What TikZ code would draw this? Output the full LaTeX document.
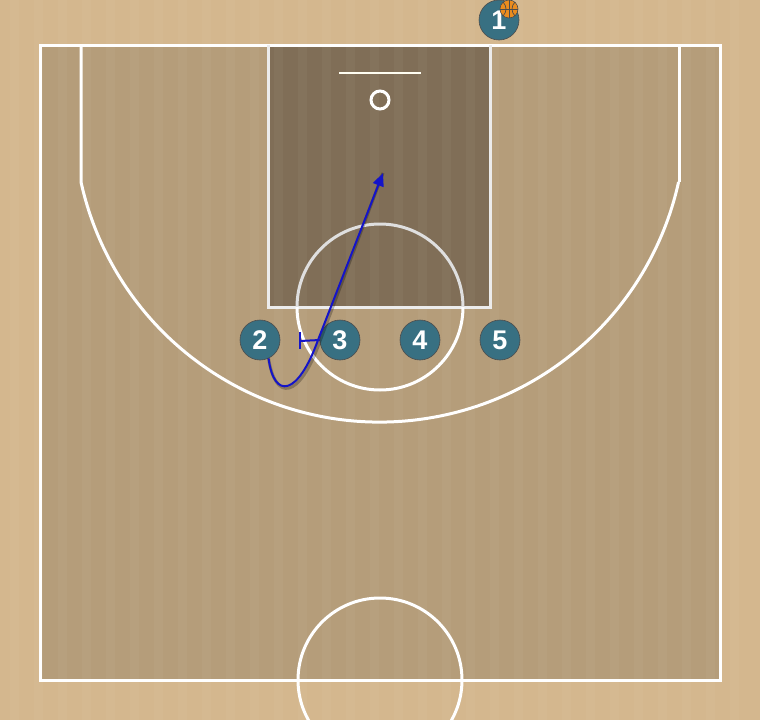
\documentclass[tikz,border=0pt]{standalone}
\usepackage{fontspec}
\setmainfont{Liberation Sans}
\usetikzlibrary{arrows.meta}
\definecolor{outside}{RGB}{212,183,142}
\definecolor{court}{RGB}{181,157,122}
\definecolor{paint}{RGB}{128,110,87}
\definecolor{playerfill}{RGB}{56,112,130}
\definecolor{cutblue}{RGB}{20,20,200}
\definecolor{ballorange}{RGB}{235,140,30}
\tikzset{
  courtline/.style={draw=white, line width=3pt},
  keyline/.style={draw=white!85!gray, line width=3pt},
  player/.style={circle, minimum size=40pt, inner sep=0pt, fill=playerfill, draw=black!70, line width=0.6pt,
     text=white, font=\fontsize{27}{27}\selectfont\bfseries},
  cut/.style={draw=cutblue, line width=2pt},
  shadowline/.style={draw=black, opacity=0.25, line width=3pt},
  screenline/.style={draw=cutblue, line width=2pt}
}
\begin{document}
\begin{tikzpicture}[x=1pt,y=-1pt]
\useasboundingbox (0,0) rectangle (760,720);
\fill[outside] (0,0) rectangle (760,720);
% court
\fill[court] (40,45) rectangle (720,680);
\fill[paint] (268,45) rectangle (490,307);
% wood stripes
\foreach \x in {10,34,58,...,750} {
  \fill[white, opacity=0.035] (\x,0) rectangle ++(9,720);
}
% boundary
\draw[courtline] (40,45) rectangle (720,680);
% three point line
\draw[courtline] (81,45) -- (81,182) arc[start angle=167.55, end angle=12.45, radius=306];
\draw[courtline] (679,182) -- (679,45);
% key
\draw[keyline] (268,45) -- (268,307) -- (490,307) -- (490,45);
% free throw circle
\draw[draw=white!75!gray, line width=3pt] (297,307) arc[start angle=180, end angle=360, radius=83];
\draw[courtline] (297,307) arc[start angle=180, end angle=0, radius=83];
% backboard and rim
\draw[draw=white!95!yellow, line width=2pt] (339,73) -- (421,73);
\draw[draw=white, line width=3pt] (380,100) circle[radius=9];
% center circle
\draw[courtline] (380,680) circle[radius=82];
% players
\node[player] (p1) at (499,20) {1};
\node[player] (p2) at (260,340) {2};
\node[player] (p3) at (340,340) {3};
\node[player] (p4) at (420,340) {4};
\node[player] (p5) at (500,340) {5};
% ball
\begin{scope}[shift={(509,9)}]
  \fill[ballorange] (0,0) circle[radius=9];
  \draw[black!70, line width=0.6pt] (0,0) circle[radius=9];
  \draw[black!70, line width=0.7pt] (-9,0) -- (9,0) (0,-9) -- (0,9);
  \draw[black!70, line width=0.7pt] (-6,-7) .. controls (-2,-3) and (-2,3) .. (-6,7);
  \draw[black!70, line width=0.7pt] (6,-7) .. controls (2,-3) and (2,3) .. (6,7);
\end{scope}
% screen by 3
\coordinate (scr) at (300,341);
\draw[screenline] (p3.west) -- (scr);
\draw[screenline] (300,332) -- (300,349);
% cut of 2
\coordinate (cutend) at (383,173);
\draw[shadowline, shift={(1.5,2.5)}] (p2.-65) .. controls (274,400) and (298,396) .. (318,340) -- (cutend);
\draw[cut, -{Triangle[length=13pt,width=11pt]}] (p2.-65) .. controls (274,400) and (298,396) .. (318,340) -- (cutend);
\end{tikzpicture}
\end{document}
